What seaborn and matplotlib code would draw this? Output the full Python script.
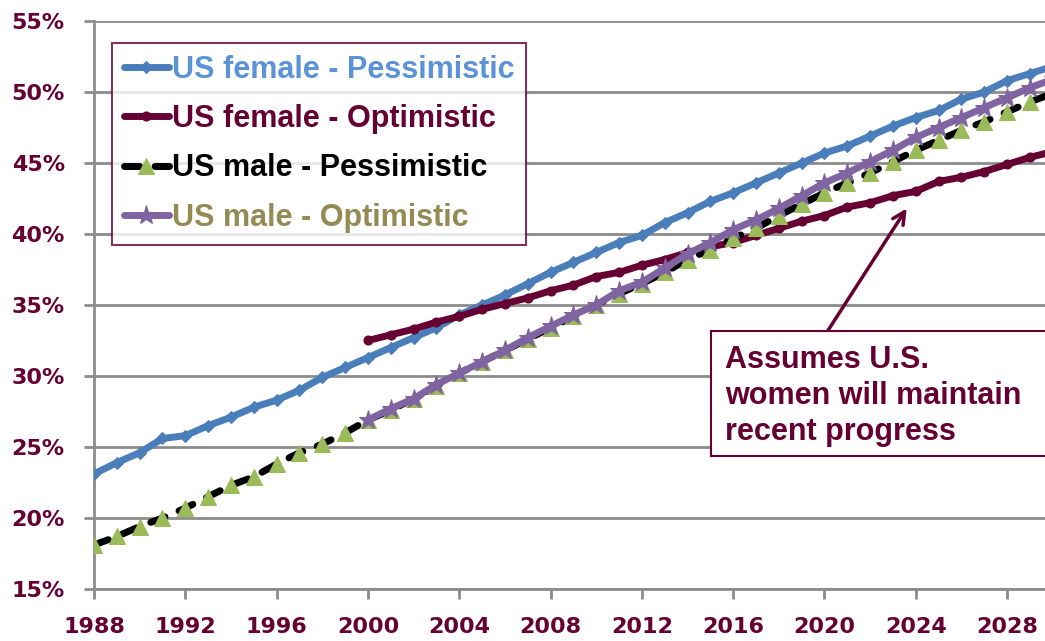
import numpy as np
import pandas as pd
import matplotlib
matplotlib.use('Agg')
import matplotlib.pyplot as plt
from matplotlib.patches import Rectangle
import seaborn as sns

# ── data ──
years_all = list(range(1988, 2031))
years_2000 = list(range(2000, 2031))

female_pess = [23.1, 23.9, 24.6, 25.6, 25.8, 26.5, 27.1, 27.8, 28.3, 29.0,
               29.9, 30.6, 31.3, 32.0, 32.7, 33.4, 34.3, 35.0, 35.7, 36.5,
               37.3, 38.0, 38.7, 39.4, 39.9, 40.8, 41.5, 42.3, 42.9, 43.6,
               44.3, 45.0, 45.7, 46.2, 46.9, 47.6, 48.2, 48.7, 49.5, 50.0,
               50.8, 51.3, 51.8]
female_opt = [32.5, 32.9, 33.3, 33.8, 34.2, 34.7, 35.1, 35.5, 36.0, 36.4,
              37.0, 37.3, 37.8, 38.2, 38.7, 39.1, 39.4, 39.9, 40.4, 40.9,
              41.3, 41.9, 42.2, 42.7, 43.0, 43.7, 44.0, 44.4, 44.9, 45.4,
              45.8]
male_pess = [18.1, 18.7, 19.4, 20.0, 20.7, 21.5, 22.3, 22.9, 23.8, 24.6,
             25.2, 26.0, 26.9, 27.6, 28.4, 29.3, 30.2, 31.0, 31.8, 32.6,
             33.4, 34.2, 35.0, 35.8, 36.5, 37.3, 38.2, 38.9, 39.7, 40.4,
             41.3, 42.1, 42.9, 43.6, 44.3, 45.1, 45.9, 46.6, 47.3, 47.9,
             48.6, 49.3, 49.9]
male_opt = [26.9, 27.7, 28.4, 29.4, 30.2, 31.0, 31.8, 32.7, 33.5, 34.3,
            35.0, 36.0, 36.6, 37.6, 38.6, 39.4, 40.3, 41.0, 41.8, 42.7,
            43.6, 44.3, 45.1, 45.9, 46.8, 47.5, 48.2, 48.9, 49.6, 50.3,
            50.9]

labels = ['US female - Pessimistic', 'US female - Optimistic',
          'US male - Pessimistic', 'US male - Optimistic']
label_colors = ['#5A93D8', '#660033', '#000000', '#948A54']
y_ticks = [15, 20, 25, 30, 35, 40, 45, 50, 55]
x_ticks = list(range(1988, 2029, 4))
note = 'Assumes U.S.\nwomen will maintain\nrecent progress'

MAROON = '#660033'
GRID = '#8C8C8C'

sns.set_theme(style='white')
plt.rcParams['font.family'] = ['Liberation Sans', 'DejaVu Sans']

fig = plt.figure(figsize=(10.45, 6.41), dpi=100)
ax = fig.add_axes([94/1045, 52/641, 951/1045, 568/641])

sns.lineplot(x=years_all, y=female_pess, ax=ax, color='#4A7EBB', lw=5,
             marker='D', ms=6, mec='#4A7EBB', label=labels[0], zorder=3)
sns.lineplot(x=years_2000, y=female_opt, ax=ax, color='#660033', lw=5,
             marker='o', ms=6.5, mec='#660033', label=labels[1], zorder=4,
             solid_capstyle='round')
sns.lineplot(x=years_all, y=male_pess, ax=ax, color='black', lw=5,
             linestyle=(0, (2.2, 2.2)), dash_capstyle='round',
             marker='^', ms=11, mfc='#9BBB59', mec='#9BBB59',
             label=labels[2], zorder=5)
sns.lineplot(x=years_2000, y=male_opt, ax=ax, color='#8064A2', lw=5,
             marker='*', ms=14, mec='#8064A2', label=labels[3], zorder=6)

ax.set_xlim(1988, 2029.66)
ax.set_ylim(15, 55)
ax.set_yticks(y_ticks)
ax.set_yticklabels([f'{v}%' for v in y_ticks])
ax.set_xticks(x_ticks)
ax.set_xticklabels([str(v) for v in x_ticks])
ax.grid(axis='y', color=GRID, lw=2)
ax.set_axisbelow(True)
for side in ['top', 'right']:
    ax.spines[side].set_visible(False)
for side in ['left', 'bottom']:
    ax.spines[side].set_color(GRID)
    ax.spines[side].set_linewidth(2)
ax.tick_params(axis='both', which='major', length=7, width=2, color=GRID,
               direction='out', left=True, bottom=True)
ax.tick_params(axis='y', pad=14)
ax.tick_params(axis='x', pad=13)
for lab in ax.get_xticklabels() + ax.get_yticklabels():
    lab.set_family('DejaVu Sans')
    lab.set_fontweight('bold')
    lab.set_fontsize(16)
    lab.set_color(MAROON)
ax.set_xlabel('')
ax.set_ylabel('')

leg = ax.legend(loc='upper left', bbox_to_anchor=(0.019, 0.962),
                frameon=True, fancybox=False, fontsize=22,
                handlelength=1.45, handletextpad=0.1, labelspacing=0.63,
                borderpad=0.4, borderaxespad=0)
leg.get_frame().set_edgecolor(MAROON)
leg.get_frame().set_linewidth(1.5)
for txt, c in zip(leg.get_texts(), label_colors):
    txt.set_color(c)
    txt.set_fontweight('bold')

# annotation box + arrow
box = Rectangle((0.649, 0.234), 0.45, 0.22, transform=ax.transAxes,
                facecolor='white', edgecolor=MAROON, lw=1.5,
                clip_on=False, zorder=8)
ax.add_patch(box)
ax.text(0.6635, 0.430, note, transform=ax.transAxes, ha='left', va='top',
        fontsize=22, fontweight='bold', color=MAROON, linespacing=1.26,
        zorder=9)
ax.annotate('', xy=(2023.6, 41.8), xytext=(2020.15, 33.2),
            arrowprops=dict(arrowstyle='->', color=MAROON, lw=2.5,
                            mutation_scale=22, shrinkA=0, shrinkB=0),
            zorder=7)

fig.savefig('out.png', dpi=100)
